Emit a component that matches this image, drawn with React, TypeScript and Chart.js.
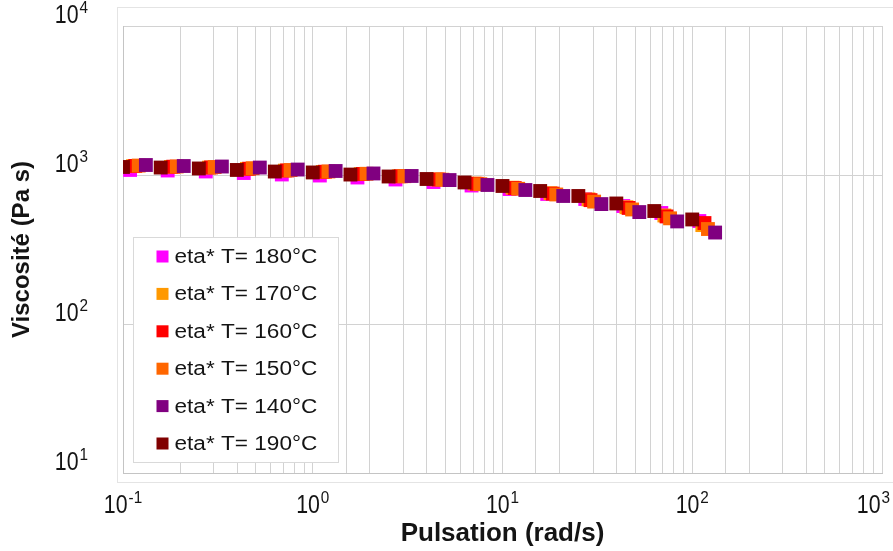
import React, { useEffect, useRef } from 'react';
import { Chart, registerables } from 'chart.js';

Chart.register(...registerables);

// ---- data ----
const omega190 = [0.1, 0.158, 0.251, 0.398, 0.631, 1.0, 1.58, 2.51, 3.98, 6.31, 10.0, 15.8, 25.1, 39.8, 63.1, 100];
const eta190 = [1132, 1122, 1106, 1081, 1055, 1040, 1007, 977, 940, 891, 844, 781, 723, 644, 573, 503];
const omega180 = [0.109, 0.172, 0.273, 0.433, 0.687, 1.09, 1.72, 2.73, 4.33, 6.87, 10.9, 17.2, 27.3, 43.3, 68.7, 109];
const eta180 = [1081, 1072, 1056, 1031, 1008, 992, 962, 933, 897, 850, 805, 746, 690, 619, 556, 491];
const omega170 = [0.113, 0.179, 0.284, 0.45, 0.713, 1.13, 1.79, 2.84, 4.5, 7.13, 11.3, 17.9, 28.4, 45.0, 71.3, 113];
const eta170 = [1147, 1133, 1121, 1099, 1070, 1049, 1014, 980, 934, 876, 822, 755, 686, 608, 535, 461];
const omega160 = [0.116, 0.184, 0.291, 0.462, 0.732, 1.16, 1.84, 2.91, 4.62, 7.32, 11.6, 18.4, 29.1, 46.2, 73.2, 116];
const eta160 = [1150, 1137, 1124, 1102, 1073, 1052, 1016, 981, 933, 873, 817, 750, 678, 601, 527, 476];
const omega150 = [0.121, 0.192, 0.304, 0.482, 0.764, 1.21, 1.92, 3.04, 4.82, 7.64, 12.1, 19.2, 30.4, 48.2, 76.4, 121];
const eta150 = [1157, 1141, 1130, 1110, 1079, 1056, 1019, 982, 930, 867, 808, 740, 663, 587, 512, 434];
const omega140 = [0.132, 0.209, 0.332, 0.526, 0.833, 1.32, 2.09, 3.32, 5.26, 8.33, 13.2, 20.9, 33.2, 52.6, 83.3, 132];
const eta140 = [1167, 1149, 1140, 1122, 1088, 1064, 1024, 985, 925, 857, 793, 723, 638, 564, 488, 411];

// legend order (as in the reference legend)
const seriesLabels = ['eta* T= 180°C', 'eta* T= 170°C', 'eta* T= 160°C', 'eta* T= 150°C', 'eta* T= 140°C', 'eta* T= 190°C'];
const seriesColors = ['#FF00FF', '#FF9900', '#FF0000', '#FF6600', '#800080', '#800000'];
const seriesOmega = [omega180, omega170, omega160, omega150, omega140, omega190];
const seriesEta = [eta180, eta170, eta160, eta150, eta140, eta190];

const xTickValues = [0.1, 1, 10, 100, 1000];
const xTickExps = ['-1', '0', '1', '2', '3'];
const yTickValues = [10, 100, 1000, 10000];
const yTickExps = ['1', '2', '3', '4'];

const xTitle = 'Pulsation (rad/s)';
const yTitle = 'Viscosité (Pa s)';

const FONT = '"Liberation Sans", Arial, Helvetica, sans-serif';
const TEXT = '#141414';

function isPow10(v: number) {
  const l = Math.log10(v);
  return Math.abs(l - Math.round(l)) < 1e-6;
}

function measurePow(ctx: CanvasRenderingContext2D, exp: string) {
  ctx.font = `26px ${FONT}`;
  const wb = ctx.measureText('10').width * 0.82;
  ctx.font = `17px ${FONT}`;
  const we = ctx.measureText(exp).width * 0.9;
  return { wb, we, total: wb + 1 + we };
}

function drawPow(ctx: CanvasRenderingContext2D, left: number, baseline: number, exp: string) {
  const m = measurePow(ctx, exp);
  ctx.save();
  ctx.fillStyle = TEXT;
  ctx.textBaseline = 'alphabetic';
  ctx.textAlign = 'left';
  ctx.translate(left, baseline);
  ctx.save();
  ctx.scale(0.82, 1);
  ctx.font = `26px ${FONT}`;
  ctx.fillText('10', 0, 0);
  ctx.restore();
  ctx.translate(m.wb + 1, -10);
  ctx.scale(0.9, 1);
  ctx.font = `17px ${FONT}`;
  ctx.fillText(exp, 0, 0);
  ctx.restore();
}

const decorPlugin = {
  id: 'decor',
  beforeDraw(chart: any) {
    const { ctx, chartArea } = chart;
    ctx.save();
    ctx.fillStyle = '#ffffff';
    ctx.fillRect(0, 0, chart.width, chart.height);
    ctx.strokeStyle = '#e4e4e4';
    ctx.lineWidth = 1;
    ctx.strokeRect(chartArea.left - 5.5, chartArea.top - 18.5, chart.width, chartArea.bottom - chartArea.top + 28);
    ctx.restore();
  },
  afterDraw(chart: any) {
    const { ctx, chartArea } = chart;
    const xs = chart.scales.x;
    const ys = chart.scales.y;
    // y tick labels (right aligned)
    yTickValues.forEach((v, i) => {
      const py = ys.getPixelForValue(v);
      const m = measurePow(ctx, yTickExps[i]);
      drawPow(ctx, chartArea.left - 35 - m.total, py - 3, yTickExps[i]);
    });
    // x tick labels (centered, kept inside the canvas)
    xTickValues.forEach((v, i) => {
      const px = xs.getPixelForValue(v);
      const m = measurePow(ctx, xTickExps[i]);
      let left = px - m.total / 2;
      if (left + m.total > chart.width - 3) left = chart.width - 3 - m.total;
      drawPow(ctx, left, chartArea.bottom + 40, xTickExps[i]);
    });
    // legend box
    const lx = chartArea.left + 10.5;
    const ly = chartArea.top + 211.5;
    const lw = 205;
    const lh = 225;
    ctx.save();
    ctx.fillStyle = '#ffffff';
    ctx.fillRect(lx, ly, lw, lh);
    ctx.strokeStyle = '#d9d9d9';
    ctx.lineWidth = 1;
    ctx.strokeRect(lx, ly, lw, lh);
    seriesLabels.forEach((label, i) => {
      const cy = ly + 19 + i * 37.4;
      ctx.fillStyle = seriesColors[i];
      ctx.fillRect(lx + 23, cy - 6, 12, 12);
      ctx.save();
      ctx.translate(lx + 41, cy);
      ctx.scale(1.13, 1);
      ctx.fillStyle = TEXT;
      ctx.font = `20px ${FONT}`;
      ctx.textBaseline = 'middle';
      ctx.textAlign = 'left';
      ctx.fillText(label, 0, 1);
      ctx.restore();
    });
    ctx.restore();
  },
};

export default function App() {
  const ref = useRef<HTMLCanvasElement | null>(null);

  useEffect(() => {
    if (!ref.current) return;
    // drawing order: first dataset ends up on top (190 on top, 180 at bottom)
    const drawOrder = [5, 4, 3, 2, 1, 0];
    const datasets = drawOrder.map((k) => ({
      label: seriesLabels[k],
      data: seriesOmega[k].map((x, j) => ({ x, y: seriesEta[k][j] })),
      backgroundColor: seriesColors[k],
      borderColor: seriesColors[k],
      pointStyle: 'rect',
      pointRadius: 9.8,
      pointBorderWidth: 0,
      showLine: false,
    }));

    const chart = new Chart(ref.current, {
      type: 'scatter',
      data: { datasets },
      plugins: [decorPlugin],
      options: {
        animation: false,
        responsive: false,
        maintainAspectRatio: false,
        layout: { padding: { left: 0, top: 26, right: 11, bottom: 0 } },
        plugins: {
          legend: { display: false },
          tooltip: { enabled: false },
          title: { display: false },
        },
        scales: {
          x: {
            type: 'logarithmic',
            min: 0.1,
            max: 1000,
            afterFit: (s: any) => { s.height = 78; },
            ticks: { display: false },
            grid: { color: '#d2d2d2', lineWidth: 1, drawTicks: false },
            border: { display: true, color: '#c4c4c4', width: 1 },
            title: {
              display: true,
              text: xTitle,
              color: TEXT,
              font: { family: FONT, size: 26, weight: 'bold' },
              padding: { top: 0, bottom: 2 },
            },
          },
          y: {
            type: 'logarithmic',
            min: 10,
            max: 10000,
            afterFit: (s: any) => { s.width = 123; },
            ticks: { display: false },
            grid: {
              color: (c: any) => (c.tick && isPow10(c.tick.value) ? '#d2d2d2' : 'rgba(0,0,0,0)'),
              lineWidth: 1,
              drawTicks: false,
            },
            border: { display: true, color: '#c4c4c4', width: 1 },
            title: {
              display: true,
              text: yTitle,
              color: TEXT,
              font: { family: FONT, size: 24, weight: 'bold' },
              padding: { top: 8, bottom: 0 },
            },
          },
        },
      } as any,
    });
    return () => chart.destroy();
  }, []);

  return (
    <div style={{ position: 'fixed', left: 0, top: 0, width: 893, height: 551, background: '#fff' }}>
      <canvas ref={ref} width={893} height={551} style={{ display: 'block', width: 893, height: 551 }} />
    </div>
  );
}
